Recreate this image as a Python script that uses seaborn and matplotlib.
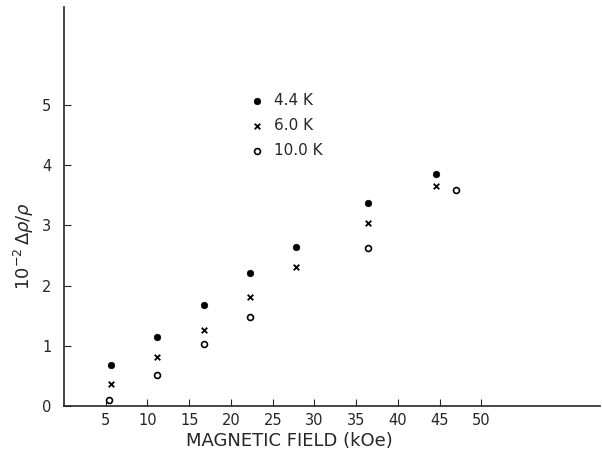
import matplotlib
matplotlib.use('Agg')
import matplotlib.pyplot as plt
import seaborn as sns
import pandas as pd

# ── DATA ─────────────────────────────────────────────────────
field_44 = [5.6, 11.1, 16.8, 22.3, 27.8, 36.4, 44.6]
rho_44   = [0.68, 1.15, 1.68, 2.21, 2.64, 3.37, 3.85]
field_60 = [5.6, 11.1, 16.8, 22.3, 27.8, 36.4, 44.6]
rho_60   = [0.37, 0.82, 1.26, 1.81, 2.31, 3.04, 3.65]
field_100 = [5.4, 11.1, 16.8, 22.3, 36.4, 46.9]
rho_100   = [0.10, 0.51, 1.03, 1.48, 2.62, 3.59]

x_ticks = [5, 10, 15, 20, 25, 30, 35, 40, 45, 50]
y_ticks = [0, 1, 2, 3, 4, 5]
labels  = ["4.4 K", "6.0 K", "10.0 K"]

sns.set_style("ticks")
plt.rcParams['font.family'] = ['DejaVu Sans']

fig = plt.figure(figsize=(6.02, 4.54), dpi=100)
ax = fig.add_axes([64/602, 48/454, 536/602, 399/454])

sns.scatterplot(x=field_44, y=rho_44, marker="o", s=22, color="black",
                edgecolor="black", linewidth=0.5, ax=ax, label=labels[0])
sns.scatterplot(x=field_60, y=rho_60, marker="x", s=16, color="black",
                linewidth=1.3, ax=ax, label=labels[1])
sns.scatterplot(x=field_100, y=rho_100, marker="o", s=18, color="white",
                edgecolor="black", linewidth=1.2, ax=ax, label=labels[2])

ax.set_xlim(0, 64.2)
ax.set_ylim(0, 6.63)
ax.set_xticks(x_ticks)
ax.set_yticks(y_ticks)
ax.tick_params(direction="in", length=5, width=0.8, labelsize=10.5, pad=5)
ax.tick_params(axis="y", pad=9)
sns.despine(ax=ax)
for sp in ax.spines.values():
    sp.set_linewidth(1.2)

ax.set_xlabel("MAGNETIC FIELD (kOe)", fontsize=13)
ax.set_ylabel(r"$10^{-2}\,\Delta\rho/\rho$", fontsize=13)
ax.xaxis.set_label_coords(0.42, -0.065)
ax.yaxis.set_label_coords(-0.052, 0.40)

ax.legend(loc="upper left", bbox_to_anchor=(0.335, 0.8), frameon=False,
          fontsize=11, handletextpad=0.6, labelspacing=0.65,
          handlelength=1.0, borderaxespad=0)

plt.savefig("out.png", dpi=100)
plt.close()
